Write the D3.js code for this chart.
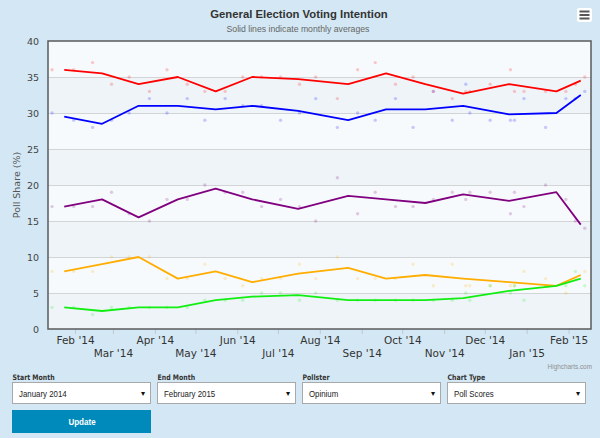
<!DOCTYPE html>
<html>
<head>
<meta charset="utf-8">
<script src="https://cdn.jsdelivr.net/npm/d3@7.9.0/dist/d3.min.js"></script>
<style>
  html, body { margin: 0; padding: 0; background: #d3e8f4; }
  svg { display: block; }
  text { font-family: "DejaVu Sans", Verdana, sans-serif; }
</style>
</head>
<body>
<svg id="chart" width="600" height="438"></svg>
<script>
// monthly averages (plotted at the mean date of the month's polls)
const monthDates = ['2014-01-24', '2014-02-21', '2014-03-20', '2014-04-18', '2014-05-16', '2014-06-12',
  '2014-07-16', '2014-08-22', '2014-09-19', '2014-10-18', '2014-11-15', '2014-12-19', '2015-01-23', '2015-02-10'];
const labAvg  = [36, 35.5, 34, 35, 33, 35, 34.7, 34, 35.5, 34, 32.7, 34, 33, 34.5];
const conAvg  = [29.5, 28.5, 31, 31, 30.5, 31, 30.3, 29, 30.5, 30.5, 31, 29.8, 30, 32.5];
const ukipAvg = [17, 18, 15.5, 18, 19.5, 18, 16.7, 18.5, 18, 17.5, 18.7, 17.8, 19, 14.5];
const ldAvg   = [8, 9, 10, 7, 8, 6.5, 7.7, 8.5, 7, 7.5, 7, 6.5, 6, 7.5];
const grnAvg  = [3, 2.5, 3, 3, 4, 4.5, 4.7, 4, 4, 4, 4.3, 5.3, 6, 7];

// individual Opinium polls
const pollDates = ['2014-01-15', '2014-01-31', '2014-02-14', '2014-02-28', '2014-03-13', '2014-03-28',
  '2014-04-10', '2014-04-25', '2014-05-08', '2014-05-23', '2014-06-05', '2014-06-19', '2014-07-03',
  '2014-07-17', '2014-07-29', '2014-08-14', '2014-08-29', '2014-09-11', '2014-09-26', '2014-10-09',
  '2014-10-24', '2014-11-07', '2014-11-17', '2014-11-20', '2014-12-05', '2014-12-20', '2014-12-23',
  '2014-12-30', '2015-01-15', '2015-01-30', '2015-02-06', '2015-02-13'];
const labPolls  = [36, 36, 37, 34, 35, 33, 36, 34, 33, 33, 35, 35, 35, 34, 35, 32, 36, 37, 34, 35, 33, 32, 33, 33, 34, 36, 33, 33, 33, 33, 34, 35];
const conPolls  = [30, 29, 28, 29, 30, 32, 30, 32, 29, 32, 31, 31, 29, 30, 32, 28, 30, 29, 32, 28, 33, 29, 34, 30, 29, 29, 29, 32, 28, 32, 32, 33];
const ukipPolls = [17, 17, 17, 19, 16, 15, 18, 18, 20, 19, 19, 17, 18, 17, 15, 21, 16, 19, 17, 17, 18, 19, 18, 19, 19, 16, 19, 17, 20, 18, 15, 14];
const ldPolls   = [8, 8, 8, 10, 10, 10, 7, 7, 9, 7, 6, 7, 7, 9, 7, 10, 7, 7, 7, 9, 6, 9, 6, 6, 6, 6, 6, 8, 7, 5, 7, 8];
const grnPolls  = [3, 3, 2, 3, 3, 3, 3, 3, 4, 4, 4, 5, 5, 4, 5, 4, 4, 4, 4, 4, 4, 4, 5, 4, 6, 5, 6, 4, 6, 6, 8, 6];

const yTicks = [0, 5, 10, 15, 20, 25, 30, 35, 40];

const controlLabels = ['Start Month', 'End Month', 'Pollster', 'Chart Type'];
const controlValues = ['January 2014', 'February 2015', 'Opinium', 'Poll Scores'];

const parse = d3.timeParse('%Y-%m-%d');

const series = [
  { name: 'Conservative', color: '#0000ff', avg: conAvg,  polls: conPolls },
  { name: 'Labour',       color: '#ff0000', avg: labAvg,  polls: labPolls },
  { name: 'UKIP',         color: '#800080', avg: ukipAvg, polls: ukipPolls },
  { name: 'Lib Dem',      color: '#ffad00', avg: ldAvg,   polls: ldPolls },
  { name: 'Green',        color: '#11ee11', avg: grnAvg,  polls: grnPolls },
];

const plot = { left: 48, right: 591, top: 41, bottom: 329 };

const svg = d3.select('#chart');

const xScale = d3.scaleTime()
  .domain([new Date(2014, 0, 12), new Date(2015, 1, 17, 14)])
  .range([plot.left, plot.right]);

const yScale = d3.scaleLinear()
  .domain([0, 40])
  .range([plot.bottom, plot.top]);

// title + subtitle
svg.append('text')
  .attr('x', 299).attr('y', 18)
  .attr('text-anchor', 'middle')
  .style('font-family', '"Liberation Sans", Arial, sans-serif')
  .style('font-weight', 'bold')
  .style('font-size', '11.3px')
  .attr('fill', '#333')
  .text('General Election Voting Intention');

svg.append('text')
  .attr('x', 298).attr('y', 32)
  .attr('text-anchor', 'middle')
  .style('font-family', '"Liberation Sans", Arial, sans-serif')
  .style('font-size', '8.7px')
  .attr('fill', '#666')
  .text('Solid lines indicate monthly averages');

// menu button
const menu = svg.append('g');
menu.append('rect')
  .attr('x', 577).attr('y', 8).attr('width', 15).attr('height', 14).attr('rx', 2)
  .attr('fill', '#fff');
for (const dy of [11.5, 15, 18.5]) {
  menu.append('line')
    .attr('x1', 579.5).attr('x2', 589.5).attr('y1', dy).attr('y2', dy)
    .attr('stroke', '#555').attr('stroke-width', 2);
}

// alternating plot bands
const bands = d3.pairs(yTicks);
svg.append('g')
  .selectAll('rect')
  .data(bands)
  .join('rect')
  .attr('x', plot.left)
  .attr('width', plot.right - plot.left)
  .attr('y', d => yScale(d[1]))
  .attr('height', d => yScale(d[0]) - yScale(d[1]))
  .attr('fill', (d, i) => i % 2 === 0 ? '#eef4f8' : '#f7fafc');

// gridlines
svg.append('g')
  .attr('class', 'gridlines')
  .attr('transform', `translate(${plot.left}, 0)`)
  .call(d3.axisLeft(yScale).tickValues(yTicks.slice(1, -1)).tickFormat('').tickSize(-(plot.right - plot.left)))
  .call(g => g.select('.domain').remove())
  .call(g => g.selectAll('line').attr('stroke', '#d2d4d6').attr('stroke-width', 1.2));

// y axis labels
svg.append('g')
  .attr('transform', `translate(${plot.left}, 0)`)
  .call(d3.axisLeft(yScale).tickValues(yTicks).tickSize(0).tickPadding(9))
  .call(g => g.select('.domain').remove())
  .call(g => g.selectAll('text')
    .style('font-family', '"DejaVu Sans", Verdana, sans-serif')
    .style('font-size', '9.5px')
    .attr('fill', '#444'));

svg.append('text')
  .attr('transform', `translate(19.5, ${(plot.top + plot.bottom) / 2}) rotate(-90)`)
  .attr('text-anchor', 'middle')
  .style('font-size', '9.5px')
  .attr('fill', '#555')
  .text('Poll Share (%)');

// x axis with staggered labels
const months = d3.timeMonth.range(new Date(2014, 1, 1), new Date(2015, 1, 2));
svg.append('g')
  .attr('transform', `translate(0, ${plot.bottom})`)
  .call(d3.axisBottom(xScale).tickValues(months).tickFormat(d3.timeFormat("%b '%y")).tickSize(5).tickPadding(3))
  .call(g => g.select('.domain').remove())
  .call(g => g.selectAll('line').attr('stroke', '#c0c8d0'))
  .call(g => g.selectAll('text')
    .style('font-family', '"DejaVu Sans", Verdana, sans-serif')
    .style('font-size', '10.5px')
    .attr('fill', '#333')
    .attr('y', (d, i) => i % 2 === 0 ? 8 : 20.5));

// poll dots
const dots = svg.append('g').attr('class', 'dots');
for (const s of series) {
  dots.append('g')
    .selectAll('circle')
    .data(s.polls.map((v, i) => ({ date: parse(pollDates[i]), value: v })))
    .join('circle')
    .attr('cx', d => xScale(d.date))
    .attr('cy', d => yScale(d.value))
    .attr('r', 1.7)
    .attr('fill', s.color)
    .attr('fill-opacity', 0.2);
}

// monthly average lines
const line = d3.line()
  .x(d => xScale(d.date))
  .y(d => yScale(d.value));

svg.append('g')
  .selectAll('path')
  .data(series)
  .join('path')
  .attr('d', s => line(s.avg.map((v, i) => ({ date: parse(monthDates[i]), value: v }))))
  .attr('fill', 'none')
  .attr('stroke', s => s.color)
  .attr('stroke-width', 1.8)
  .attr('stroke-linejoin', 'round');

// plot border
svg.append('rect')
  .attr('x', plot.left).attr('y', plot.top)
  .attr('width', plot.right - plot.left).attr('height', plot.bottom - plot.top)
  .attr('fill', 'none')
  .attr('stroke', '#5a5a5a')
  .attr('stroke-width', 1.5);

// credits
svg.append('text')
  .attr('x', 592).attr('y', 369)
  .attr('text-anchor', 'end')
  .style('font-family', '"Liberation Sans", Arial, sans-serif')
  .style('font-size', '6.4px')
  .attr('fill', '#909090')
  .text('Highcharts.com');

// form controls (condensed text via horizontal scale)
const ctrlX = [12, 157, 302, 447];
const ctrlW = 138;
const form = svg.append('g');
controlLabels.forEach((label, i) => {
  const x = ctrlX[i];
  form.append('text')
    .attr('transform', `translate(${x + 0.5}, 379.5) scale(0.82, 1)`)
    .style('font-family', '"DejaVu Sans", Verdana, sans-serif')
    .style('font-weight', 'bold')
    .style('font-size', '7.6px')
    .attr('fill', '#333')
    .text(label);
  form.append('rect')
    .attr('x', x + 0.5).attr('y', 382.5).attr('width', ctrlW).attr('height', 21)
    .attr('fill', '#fff')
    .attr('stroke', '#a9a9a9');
  form.append('text')
    .attr('transform', `translate(${x + 7}, 396.5) scale(0.82, 1)`)
    .style('font-family', '"Liberation Sans", Arial, sans-serif')
    .style('font-size', '9.6px')
    .attr('fill', '#222')
    .text(controlValues[i]);
  form.append('text')
    .attr('x', x + ctrlW - 5).attr('y', 396)
    .attr('text-anchor', 'end')
    .style('font-size', '8px')
    .attr('fill', '#111')
    .text('▾');
});

form.append('rect')
  .attr('x', 12).attr('y', 410).attr('width', 139).attr('height', 23)
  .attr('fill', '#0089bb');
form.append('text')
  .attr('transform', 'translate(82, 425) scale(0.82, 1)')
  .attr('text-anchor', 'middle')
  .style('font-family', '"Liberation Sans", Arial, sans-serif')
  .style('font-weight', 'bold')
  .style('font-size', '9.8px')
  .attr('fill', '#fff')
  .text('Update');
</script>
</body>
</html>
